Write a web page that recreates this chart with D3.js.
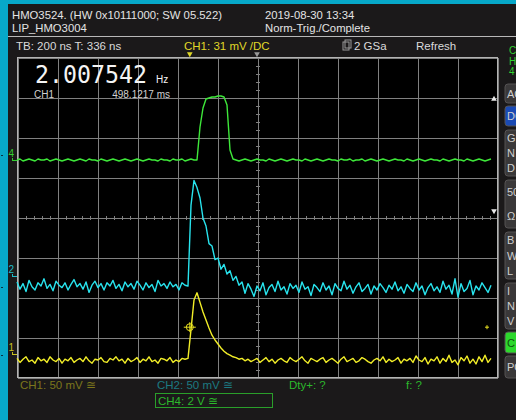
<!DOCTYPE html>
<html>
<head>
<meta charset="utf-8">
<script src="https://cdn.jsdelivr.net/npm/d3@7/dist/d3.min.js"></script>
<style>
  html, body { margin: 0; padding: 0; background: #1b191a; }
  svg { display: block; font-family: "Liberation Sans", Arial, sans-serif; }
</style>
</head>
<body>
<svg id="scope" width="516" height="420"></svg>
<script>
// acquisition: first sample time and sample spacing (ns)
const t0 = -1200;
const dt = 15;

// CH1 (yellow), mV
const ch1 = [
  -8, -13, -9, -6, -12, -10, -14, -7, -11, -9,
  -13, -6, -10, -12, -8, -14, -9, -11, -7, -13,
  -10, -8, -12, -6, -11, -14, -9, -10, -7, -12,
  -13, -8, -10, -6, -11, -9, -14, -8, -12, -10,
  -7, -13, -9, -11, -6, -12, -10, -14, -8, -9,
  -11, -7, -13, -10, -12, -8, -9, -8, 28, 65,
  74, 62, 50, 40, 30, 21, 15, 10, 5, 1,
  -2, -4, -6, -7, -9, -8, -11, -9, -12, -10,
  -8, -13, -10, -7, -12, -9, -14, -10, -8, -11,
  -13, -7, -10, -12, -9, -6, -11, -14, -8, -10,
  -12, -9, -7, -13, -10, -8, -11, -14, -9, -6,
  -12, -10, -8, -13, -11, -7, -9, -12, -14, -10,
  -8, -11, -6, -13, -9, -12, -10, -7, -14, -9,
  -11, -8, -13, -5, -10, -12, -7, -15, -9, -11,
  -6, -14, -8, -12, -4, -13, -10, -16, -7, -11,
  -5, -14, -9, -15, -6, -12, -4, -13, -8
];

// CH2 (cyan), mV
const ch2 = [
  -10, -19, -12, -22, -8, -16, -20, -11, -15, -6,
  -18, -13, -21, -9, -14, -17, -11, -20, -13, -7,
  -16, -12, -19, -10, -23, -14, -9, -17, -12, -20,
  -11, -15, -8, -18, -13, -21, -10, -16, -12, -19,
  -9, -14, -20, -11, -17, -13, -22, -8, -15, -12,
  -18, -10, -16, -13, -20, -11, -14, -15, 86, 117,
  108, 95, 70, 60, 38, 35, 18, 20, 6, 12,
  0, 4, -8, -3, -14, -10, -24, -12, -19, -28,
  -15, -21, -11, -26, -17, -13, -22, -9, -20, -16,
  -25, -12, -18, -14, -23, -10, -19, -16, -27, -13,
  -17, -22, -11, -20, -15, -26, -12, -18, -21, -9,
  -19, -14, -24, -16, -11, -22, -18, -13, -25, -15,
  -20, -12, -17, -23, -14, -19, -10, -21, -16, -24,
  -13, -18, -22, -11, -20, -15, -26, -17, -12, -21,
  -16, -23, -9, -19, -14, -25, -6, -29, -12, -22,
  -18, -8, -26, -15, -20, -11, -17, -23, -14
];

// CH4 (green), V
const ch4 = [
  -0.10, -0.05, -0.15, -0.10, -0.05, -0.10, -0.15, -0.05, -0.10, -0.10,
  -0.05, -0.15, -0.10, -0.05, -0.10, -0.15, -0.10, -0.05, -0.10, -0.15,
  -0.10, -0.05, -0.10, -0.15, -0.05, -0.10, -0.10, -0.15, -0.05, -0.10,
  -0.15, -0.10, -0.05, -0.10, -0.15, -0.10, -0.05, -0.10, -0.15, -0.10,
  -0.05, -0.10, -0.15, -0.10, -0.05, -0.10, -0.10, -0.15, -0.05, -0.10,
  -0.10, -0.15, -0.05, -0.10, -0.10, -0.05, -0.15, -0.10, -0.05, -0.10,
  -0.10, 1.55, 2.50, 2.95, 3.00, 3.05, 3.05, 3.10, 3.10, 3.05,
  2.65, 0.40, -0.05, -0.10, -0.15, -0.10, -0.05, -0.10, -0.15, -0.10,
  -0.05, -0.10, -0.10, -0.15, -0.05, -0.10, -0.15, -0.10, -0.05, -0.10,
  -0.15, -0.10, -0.05, -0.10, -0.10, -0.15, -0.05, -0.10, -0.15, -0.10,
  -0.05, -0.10, -0.15, -0.10, -0.05, -0.10, -0.10, -0.15, -0.05, -0.10,
  -0.10, -0.05, -0.15, -0.10, -0.10, -0.05, -0.15, -0.10, -0.05, -0.10,
  -0.15, -0.10, -0.05, -0.10, -0.15, -0.10, -0.05, -0.10, -0.10, -0.15,
  -0.05, -0.10, -0.15, -0.10, -0.05, -0.10, -0.15, -0.10, -0.05, -0.10,
  -0.10, -0.15, -0.05, -0.10, -0.15, -0.10, -0.05, -0.10, -0.10, -0.15,
  -0.05, -0.10, -0.15, -0.10, -0.05, -0.10, -0.15, -0.10, -0.05
];

// channel settings
const channelNames = ['1', '2', '4'];
const channelTraces = [ch1, ch2, ch4];
const voltsPerDiv = [50, 50, 2];
const groundDiv = [-3.375, -1.425, 1.475];
const traceColors = ['#f2ee28', '#28e4ee', '#3ee83a'];
const markerColors = ['#c8c020', '#20bcc8', '#34d030'];

// trigger
const triggerTime = -336;   // ns
const triggerLevel = 31;    // mV on CH1

// header and status texts
const headerLines = ['HMO3524. (HW 0x10111000; SW 05.522)', 'LIP_HMO3004'];
const dateLines = ['2019-08-30 13:34', 'Norm-Trig./Complete'];
const counterValue = '2.007542';
const counterPeriod = '498.1217 ms';
const sideButtons = [
  {lines: ['AC'], y0: 84, y1: 103, fill: '#3a3839'},
  {lines: ['DC'], y0: 106, y1: 126, fill: '#1a4ab4'},
  {lines: ['G', 'N', 'D'], y0: 130, y1: 176, fill: '#3a3839'},
  {lines: ['50', 'Ω'], y0: 180, y1: 228, fill: '#3a3839'},
  {lines: ['B', 'W', 'L'], y0: 232, y1: 279, fill: '#3a3839'},
  {lines: ['I', 'N', 'V'], y0: 283, y1: 329, fill: '#3a3839'},
  {lines: ['C'], y0: 332, y1: 353, fill: '#2cd82c'},
  {lines: ['PO'], y0: 356, y1: 378, fill: '#3a3839'}
];

const svg = d3.select('#scope');
const W = 516, H = 420;
const plot = {left: 17, right: 497, top: 57, bottom: 377};

// frame
svg.append('rect').attr('width', W).attr('height', H).attr('fill', '#1b191a');
svg.append('rect').attr('width', 8).attr('height', H).attr('fill', '#07a8c9');
svg.append('rect').attr('width', W).attr('height', 4).attr('fill', '#07a8c9');
[155, 287, 355].forEach((yy) => {
  svg.append('rect').attr('x', 1).attr('y', yy).attr('width', 2).attr('height', 1).attr('fill', '#0a3040');
});
svg.append('line')
  .attr('x1', 8).attr('x2', W).attr('y1', 36.5).attr('y2', 36.5)
  .attr('stroke', '#b8b8b8').attr('stroke-width', 1);

// header texts
const hdr = svg.append('g').attr('fill', '#e4e4e4').attr('font-size', 11.3);
headerLines.forEach((s, i) => hdr.append('text').attr('x', 12).attr('y', 19 + i * 13).text(s));
dateLines.forEach((s, i) => hdr.append('text').attr('x', 265).attr('y', 19 + i * 13).text(s));

const row = svg.append('g').attr('font-size', 11.5);
row.append('text').attr('x', 16).attr('y', 50).attr('fill', '#dadada').text('TB: 200 ns   T: 336 ns');
row.append('text').attr('x', 184).attr('y', 50).attr('fill', '#e0d828').text('CH1: 31 mV /DC');
row.append('rect').attr('x', 343).attr('y', 42).attr('width', 6).attr('height', 8)
  .attr('fill', 'none').attr('stroke', '#9a9a9a');
row.append('rect').attr('x', 345).attr('y', 40).attr('width', 6).attr('height', 8)
  .attr('fill', 'none').attr('stroke', '#9a9a9a');
row.append('text').attr('x', 354).attr('y', 50).attr('fill', '#dadada').text('2 GSa');
row.append('text').attr('x', 416).attr('y', 50).attr('fill', '#dadada').text('Refresh');

// scales
const x = d3.scaleLinear().domain([-1200, 1200]).range([plot.left, plot.right]);
const y = d3.scaleLinear().domain([-4, 4]).range([plot.bottom, plot.top]);

// plot area
svg.append('rect')
  .attr('x', plot.left).attr('y', plot.top)
  .attr('width', plot.right - plot.left).attr('height', plot.bottom - plot.top)
  .attr('fill', '#000');

const grid = svg.append('g').attr('transform', 'translate(0.5,0.5)').attr('shape-rendering', 'crispEdges');

grid.append('g')
  .attr('transform', 'translate(0,' + plot.bottom + ')')
  .call(d3.axisBottom(x).tickValues(d3.range(-1200, 1201, 200)).tickSize(-(plot.bottom - plot.top)).tickFormat(''))
  .call((g) => g.select('.domain').remove())
  .selectAll('line').attr('stroke', '#808080');

grid.append('g')
  .attr('transform', 'translate(' + plot.left + ',0)')
  .call(d3.axisLeft(y).tickValues(d3.range(-4, 4.01, 1)).tickSize(-(plot.right - plot.left)).tickFormat(''))
  .call((g) => g.select('.domain').remove())
  .selectAll('line').attr('stroke', '#808080');

// minor ticks on the centre lines
grid.append('g')
  .attr('transform', 'translate(0,' + (y(0) - 2) + ')')
  .call(d3.axisBottom(x).tickValues(d3.range(-1200, 1201, 40)).tickSize(4).tickFormat(''))
  .call((g) => g.select('.domain').remove())
  .selectAll('line').attr('stroke', '#808080');

grid.append('g')
  .attr('transform', 'translate(' + (x(0) + 2) + ',0)')
  .call(d3.axisLeft(y).tickValues(d3.range(-4, 4.01, 0.2)).tickSize(4).tickFormat(''))
  .call((g) => g.select('.domain').remove())
  .selectAll('line').attr('stroke', '#808080');

grid.append('rect')
  .attr('x', plot.left).attr('y', plot.top)
  .attr('width', plot.right - plot.left).attr('height', plot.bottom - plot.top)
  .attr('fill', 'none').attr('stroke', '#b4b4b4');

// frequency counter readout
const cnt = svg.append('g').attr('fill', '#f4f4f4');
cnt.append('text').attr('x', 35).attr('y', 83)
  .attr('font-family', '"DejaVu Sans Mono", monospace').attr('font-size', 25)
  .attr('textLength', 112).attr('lengthAdjust', 'spacingAndGlyphs')
  .text(counterValue);
cnt.append('text').attr('x', 156).attr('y', 83).attr('font-size', 10).text('Hz');
cnt.append('text').attr('x', 34).attr('y', 98).attr('font-size', 10).attr('fill', '#d0d0d0').text('CH1');
cnt.append('text').attr('x', 170).attr('y', 98).attr('font-size', 10).attr('fill', '#d0d0d0')
  .attr('text-anchor', 'end').text(counterPeriod);

// traces
const line = d3.line()
  .x((d, i) => x(t0 + i * dt))
  .y((d) => d);

channelTraces.forEach((vals, c) => {
  const pts = vals.map((v) => y(groundDiv[c] + v / voltsPerDiv[c]));
  svg.append('path')
    .attr('d', line(pts))
    .attr('fill', 'none')
    .attr('stroke', traceColors[c])
    .attr('stroke-width', 1.4)
    .attr('stroke-linejoin', 'round');
});

// channel ground markers in the left strip
channelNames.forEach((n, c) => {
  const gy = y(groundDiv[c]);
  const m = svg.append('g').attr('fill', markerColors[c]).attr('stroke', markerColors[c]);
  m.append('text').attr('x', 8.5).attr('y', gy - 1).attr('font-size', 10).attr('stroke', 'none').text(n);
  m.append('line').attr('x1', 12).attr('x2', 17).attr('y1', gy + 2.5).attr('y2', gy + 2.5).attr('stroke-width', 1);
  m.append('line').attr('x1', 12.5).attr('x2', 12.5).attr('y1', gy).attr('y2', gy + 3).attr('stroke-width', 1);
});

// trigger markers
const trigY = y(groundDiv[0] + triggerLevel / voltsPerDiv[0]);
const trig = svg.append('g').attr('stroke', '#e8e020').attr('fill', 'none');
trig.append('circle').attr('cx', x(triggerTime)).attr('cy', trigY).attr('r', 3.5).attr('stroke-width', 1);
trig.append('line').attr('x1', x(triggerTime) - 6).attr('x2', x(triggerTime) + 6).attr('y1', trigY).attr('y2', trigY);
trig.append('line').attr('x1', x(triggerTime)).attr('x2', x(triggerTime)).attr('y1', trigY - 5).attr('y2', trigY + 5);
trig.append('line').attr('x1', x(1150) - 2).attr('x2', x(1150) + 2).attr('y1', trigY).attr('y2', trigY);
trig.append('line').attr('x1', x(1150)).attr('x2', x(1150)).attr('y1', trigY - 2).attr('y2', trigY + 2);

const tri = d3.symbol().type(d3.symbolTriangle).size(14);
svg.append('path').attr('d', tri())
  .attr('transform', 'translate(' + x(triggerTime) + ',' + (plot.top - 3) + ') rotate(180)')
  .attr('fill', '#e0d828');
svg.append('path').attr('d', tri())
  .attr('transform', 'translate(' + x(0) + ',' + (plot.top - 3) + ') rotate(180)')
  .attr('fill', '#9a9a9a');
svg.append('path').attr('d', tri())
  .attr('transform', 'translate(' + (plot.right - 3) + ',' + (y(3) + 2) + ')')
  .attr('fill', '#e8e8e8');
svg.append('path').attr('d', tri())
  .attr('transform', 'translate(' + (plot.right - 3) + ',' + (y(0) - 6) + ') rotate(180)')
  .attr('fill', '#e8e8e8');

// side panel
const side = svg.append('g');
['C', 'H', '4'].forEach((s, i) => {
  side.append('text').attr('x', 509).attr('y', 54 + i * 10.5).attr('font-size', 10).attr('fill', '#30d030').text(s);
});
sideButtons.forEach((b) => {
  side.append('rect')
    .attr('x', 505).attr('y', b.y0).attr('width', 20).attr('height', b.y1 - b.y0).attr('rx', 3)
    .attr('fill', b.fill).attr('stroke', '#555253');
  const step = (b.y1 - b.y0) / b.lines.length;
  b.lines.forEach((s, i) => {
    side.append('text')
      .attr('x', 507).attr('y', b.y0 + step * (i + 0.5) + 4)
      .attr('font-size', 11)
      .attr('fill', b.fill === '#2cd82c' ? '#105010' : '#cfcfcf')
      .text(s);
  });
});

// status line
const st = svg.append('g').attr('font-size', 11.5);
st.append('text').attr('x', 20).attr('y', 389).attr('fill', '#7c761c').text('CH1: 50 mV ≅');
st.append('text').attr('x', 157).attr('y', 389).attr('fill', '#1c7a82').text('CH2: 50 mV ≅');
st.append('rect').attr('x', 155.5).attr('y', 393.5).attr('width', 117).attr('height', 14)
  .attr('fill', 'none').attr('stroke', '#2a9e2a');
st.append('text').attr('x', 158).attr('y', 405).attr('fill', '#2cb82c').text('CH4: 2 V ≅');
st.append('text').attr('x', 289).attr('y', 389).attr('fill', '#2cb82c').text('Dty+: ?');
st.append('text').attr('x', 406).attr('y', 389).attr('fill', '#2cb82c').text('f: ?');
</script>
</body>
</html>
